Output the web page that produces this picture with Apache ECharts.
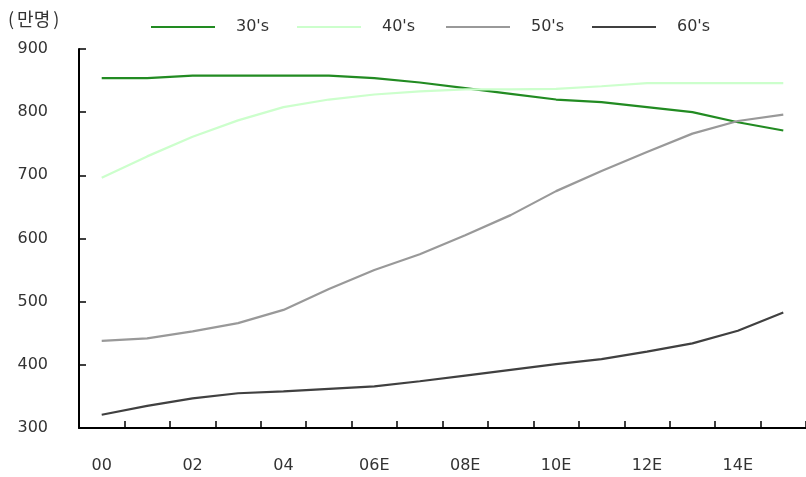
<!DOCTYPE html>
<html>
<head>
<meta charset="utf-8">
<script src="https://cdn.jsdelivr.net/npm/echarts@6/dist/echarts.min.js"></script>
<style>
  html, body { margin: 0; padding: 0; background: #fff; }
  #chart { width: 806px; height: 477px; }
</style>
</head>
<body>
<div id="chart"></div>
<script>
// Years (E = estimate); every other one is labelled on the axis
const years = ['00', '01', '02', '03', '04', '05', '06E', '07E', '08E', '09E', '10E', '11E', '12E', '13E', '14E', '15E'];

// Population by age group, in units of 10,000 people (만명)
const age30s = [854, 854, 858, 858, 858, 858, 854, 847, 838, 829, 820, 816, 808, 800, 784, 771];
const age40s = [696, 730, 761, 787, 808, 820, 828, 833, 836, 836, 837, 841, 846, 846, 846, 846];
const age50s = [438, 442, 453, 466, 487, 520, 550, 575, 605, 637, 675, 707, 737, 766, 786, 796];
const age60s = [321, 335, 347, 355, 358, 362, 366, 374, 383, 392, 401, 409, 421, 434, 454, 483];

const seriesNames = ["30's", "40's", "50's", "60's"];
const seriesData = [age30s, age40s, age50s, age60s];
const seriesColors = ['#228b22', '#ccffcc', '#999999', '#404040'];

// Value axis range and step
const yMin = 300, yMax = 900, yStep = 100;

const textFont = 'DejaVu Sans';
const textColor = '#333';

const chart = echarts.init(document.getElementById('chart'), null, { renderer: 'canvas' });

const legendLeft = [151, 297, 446, 592];

const option = {
  backgroundColor: '#ffffff',
  animation: false,
  graphic: [{
    type: 'text',
    left: 8,
    top: 10,
    style: {
      text: '{p|(}{h|만명}{p|)}',
      rich: {
        p: { font: '18px "Noto Sans CJK KR"', fill: textColor, padding: [0, 3, 0, 3] },
        h: { font: '18px "Noto Sans CJK KR"', fill: textColor }
      }
    }
  }],
  legend: seriesNames.map((name, i) => ({
    data: [name],
    left: legendLeft[i],
    top: 19,
    icon: 'rect',
    itemWidth: 64,
    itemHeight: 2,
    padding: 0,
    textStyle: {
      fontFamily: textFont,
      fontSize: 16,
      color: textColor,
      padding: [0, 0, 0, 16]
    }
  })),
  grid: {
    left: 79,
    top: 49,
    width: 737,
    height: 379,
    containLabel: false
  },
  xAxis: {
    type: 'category',
    data: years,
    boundaryGap: true,
    axisLine: { lineStyle: { color: '#000', width: 2 } },
    axisTick: { show: true, inside: true, length: 7, interval: 0, lineStyle: { color: '#000', width: 1.5 } },
    axisLabel: {
      interval: 1,
      margin: 30,
      fontFamily: textFont,
      fontSize: 16,
      color: textColor
    },
    splitLine: { show: false }
  },
  yAxis: {
    type: 'value',
    min: yMin,
    max: yMax,
    interval: yStep,
    axisLine: { show: true, lineStyle: { color: '#000', width: 2 } },
    axisTick: { show: true, inside: true, length: 7, lineStyle: { color: '#000', width: 1.5 } },
    axisLabel: {
      margin: 31,
      fontFamily: textFont,
      fontSize: 16,
      color: textColor
    },
    splitLine: { show: false }
  },
  series: seriesNames.map((name, i) => ({
    name: name,
    type: 'line',
    data: seriesData[i],
    symbol: 'none',
    smooth: false,
    lineStyle: { color: seriesColors[i], width: 2.2 },
    itemStyle: { color: seriesColors[i] }
  }))
};

chart.setOption(option);
</script>
</body>
</html>
